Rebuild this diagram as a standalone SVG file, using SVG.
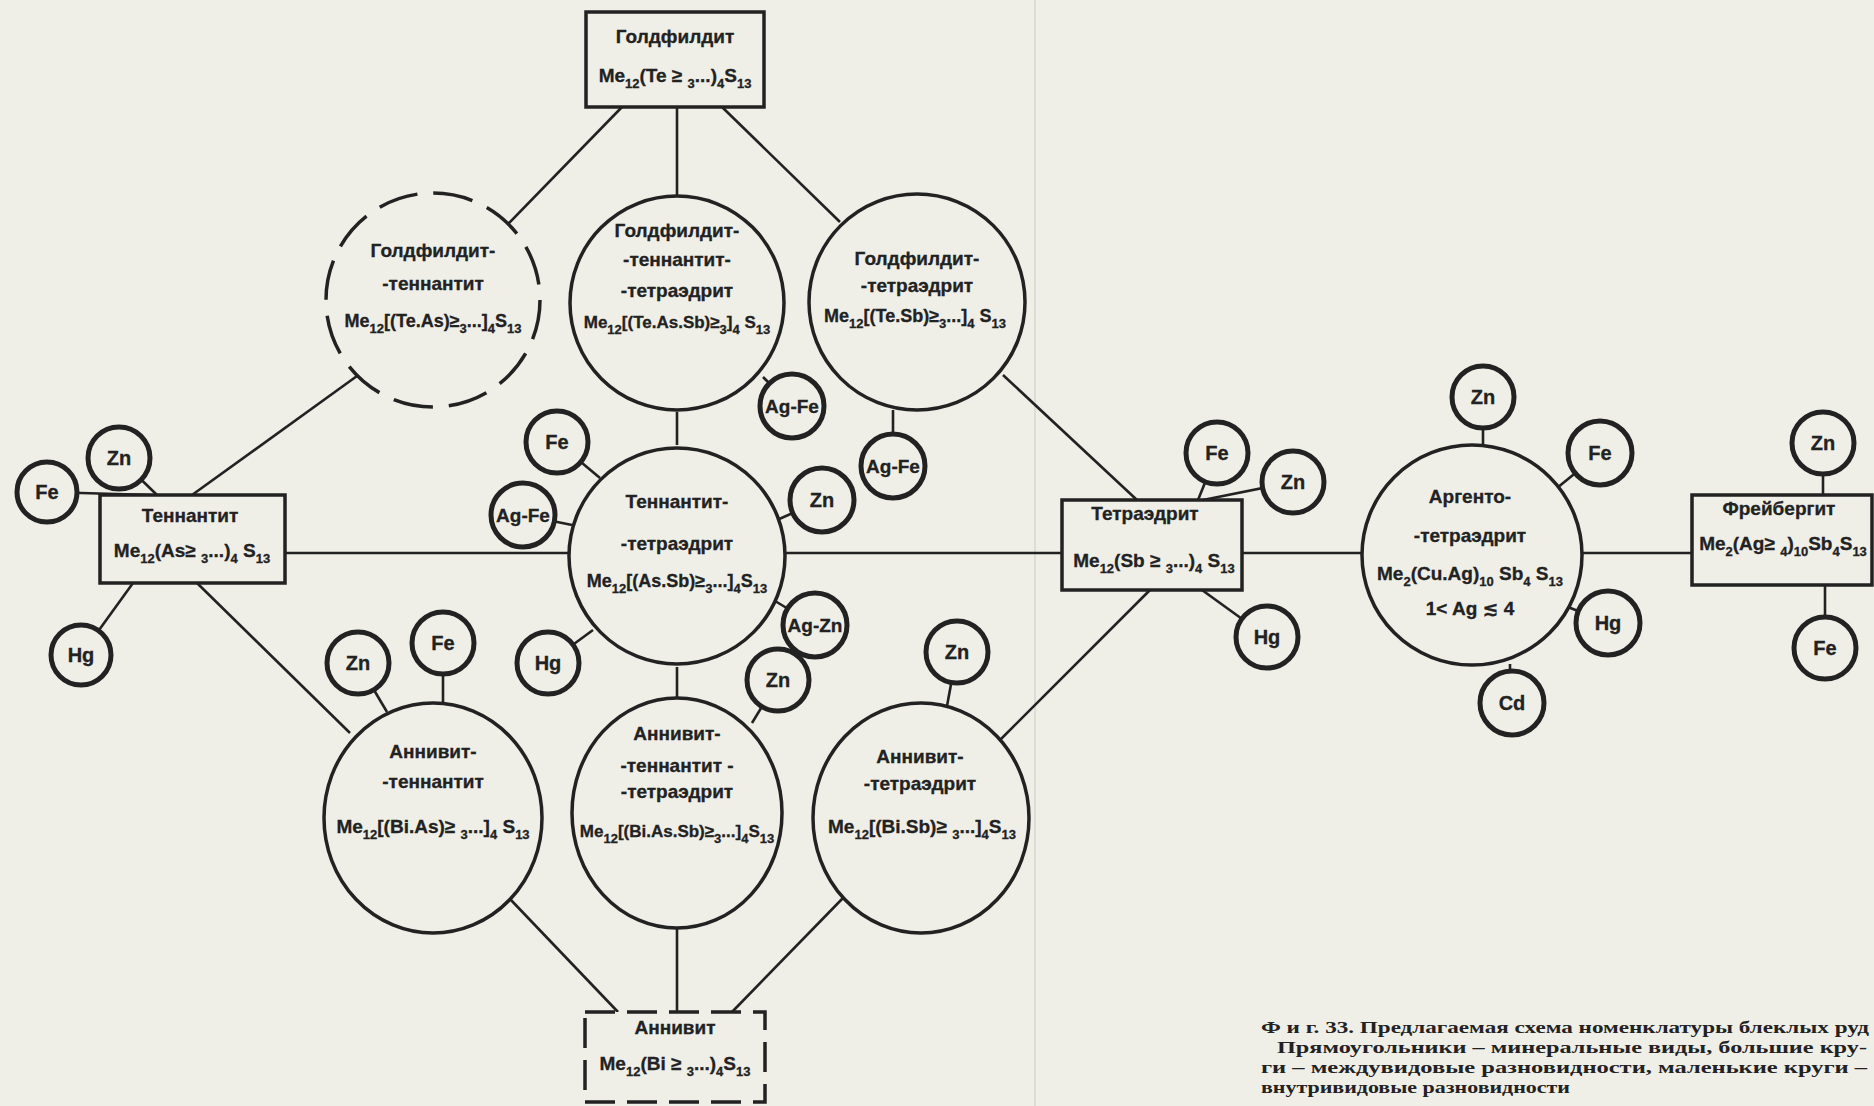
<svg xmlns="http://www.w3.org/2000/svg" width="1874" height="1106" viewBox="0 0 1874 1106">
<style>
.bg{fill:#efefe8}
.big{fill:#efefe8;stroke:#222;stroke-width:3.5}
.sm{fill:#efefe8;stroke:#222;stroke-width:5}
.box{fill:#efefe8;stroke:#222;stroke-width:3.5}
.dc{stroke-dasharray:40 16}
.db{stroke-dasharray:30 12}
#connectors line{stroke:#222;stroke-width:2.6}
.t{font-family:"Liberation Sans","DejaVu Sans",sans-serif;font-weight:bold;font-size:19px;fill:#222;stroke:#222;stroke-width:0.3;text-anchor:middle}
.f18{font-size:18px}
.f17{font-size:17px}
.s{font-size:13px}
.e{font-size:20px}
.cap{font-family:"Liberation Serif","DejaVu Serif",serif;font-weight:bold;font-size:17px;fill:#222}
</style>
<rect class="bg" x="0" y="0" width="1874" height="1106"/>
<line x1="1035" y1="0" x2="1035" y2="1106" stroke="#d0d0c8" stroke-width="1.2"/>

<g id="connectors">
<line x1="677" y1="107" x2="677" y2="195"/>
<line x1="622" y1="107" x2="508" y2="224"/>
<line x1="722" y1="107" x2="840" y2="222"/>
<line x1="192" y1="495" x2="357" y2="376"/>
<line x1="197" y1="583" x2="350" y2="733"/>
<line x1="285" y1="553" x2="570" y2="553"/>
<line x1="783" y1="553" x2="1062" y2="553"/>
<line x1="1242" y1="553" x2="1363" y2="553"/>
<line x1="1582" y1="553" x2="1692" y2="553"/>
<line x1="677" y1="412" x2="677" y2="445"/>
<line x1="677" y1="667" x2="677" y2="700"/>
<line x1="677" y1="926" x2="677" y2="1012"/>
<line x1="510" y1="899" x2="618" y2="1012"/>
<line x1="843" y1="898" x2="732" y2="1012"/>
<line x1="1003" y1="375" x2="1137" y2="500"/>
<line x1="1000" y1="740" x2="1150" y2="590"/>
<line x1="119" y1="458" x2="157" y2="495"/>
<line x1="47" y1="492" x2="150" y2="495"/>
<line x1="81" y1="655" x2="133" y2="583"/>
<line x1="557" y1="442" x2="600" y2="478"/>
<line x1="523" y1="515" x2="572" y2="525"/>
<line x1="822" y1="500" x2="777" y2="520"/>
<line x1="815" y1="625" x2="775" y2="601"/>
<line x1="548" y1="663" x2="593" y2="630"/>
<line x1="792" y1="406" x2="763" y2="377"/>
<line x1="893" y1="466" x2="893" y2="410"/>
<line x1="778" y1="680" x2="752" y2="723"/>
<line x1="358" y1="663" x2="387" y2="712"/>
<line x1="443" y1="643" x2="443" y2="706"/>
<line x1="957" y1="652" x2="947" y2="706"/>
<line x1="1217" y1="453" x2="1198" y2="500"/>
<line x1="1293" y1="482" x2="1203" y2="500"/>
<line x1="1267" y1="637" x2="1202" y2="590"/>
<line x1="1483" y1="397" x2="1483" y2="446"/>
<line x1="1600" y1="453" x2="1557" y2="488"/>
<line x1="1608" y1="623" x2="1568" y2="607"/>
<line x1="1510" y1="703" x2="1510" y2="664"/>
<line x1="1823" y1="443" x2="1823" y2="495"/>
<line x1="1825" y1="648" x2="1825" y2="585"/>
</g>

<g id="goldfieldite">
<rect class="box" x="586" y="12" width="178" height="95"/>
<text class="t" x="675" y="43">Голдфилдит</text>
<text class="t" x="675" y="82">Me<tspan class="s" dy="6">12</tspan><tspan dy="-6">(Te ≥ </tspan><tspan class="s" dy="6">3</tspan><tspan dy="-6">...)</tspan><tspan class="s" dy="6">4</tspan><tspan dy="-6">S</tspan><tspan class="s" dy="6">13</tspan></text>
</g>

<g id="goldfieldite-tennantite">
<circle class="big dc" cx="433" cy="300" r="107"/>
<text class="t" x="433" y="257">Голдфилдит-</text>
<text class="t" x="433" y="290">-теннантит</text>
<text class="t f18" x="433" y="327">Me<tspan class="s" dy="6">12</tspan><tspan dy="-6">[(Te.As)≥</tspan><tspan class="s" dy="6">3</tspan><tspan dy="-6">...]</tspan><tspan class="s" dy="6">4</tspan><tspan dy="-6">S</tspan><tspan class="s" dy="6">13</tspan></text>
</g>

<g id="goldfieldite-tennantite-tetrahedrite">
<circle class="big" cx="677" cy="303" r="107"/>
<text class="t" x="677" y="237">Голдфилдит-</text>
<text class="t" x="677" y="266">-теннантит-</text>
<text class="t" x="677" y="297">-тетраэдрит</text>
<text class="t f17" x="677" y="328">Me<tspan class="s" dy="6">12</tspan><tspan dy="-6">[(Te.As.Sb)≥</tspan><tspan class="s" dy="6">3</tspan><tspan dy="-6">]</tspan><tspan class="s" dy="6">4</tspan><tspan dy="-6"> S</tspan><tspan class="s" dy="6">13</tspan></text>
</g>

<g id="goldfieldite-tetrahedrite">
<circle class="big" cx="917" cy="302" r="108"/>
<text class="t" x="917" y="265">Голдфилдит-</text>
<text class="t" x="917" y="292">-тетраэдрит</text>
<text class="t f18" x="915" y="322">Me<tspan class="s" dy="6">12</tspan><tspan dy="-6">[(Te.Sb)≥</tspan><tspan class="s" dy="6">3</tspan><tspan dy="-6">...]</tspan><tspan class="s" dy="6">4</tspan><tspan dy="-6"> S</tspan><tspan class="s" dy="6">13</tspan></text>
</g>

<g id="tennantite">
<rect class="box" x="100" y="495" width="185" height="88"/>
<text class="t" x="190" y="522">Теннантит</text>
<text class="t" x="192" y="557">Me<tspan class="s" dy="6">12</tspan><tspan dy="-6">(As≥ </tspan><tspan class="s" dy="6">3</tspan><tspan dy="-6">...)</tspan><tspan class="s" dy="6">4</tspan><tspan dy="-6"> S</tspan><tspan class="s" dy="6">13</tspan></text>
</g>

<g id="tennantite-tetrahedrite">
<circle class="big" cx="677" cy="556" r="108"/>
<text class="t" x="677" y="508">Теннантит-</text>
<text class="t" x="677" y="550">-тетраэдрит</text>
<text class="t f18" x="677" y="587">Me<tspan class="s" dy="6">12</tspan><tspan dy="-6">[(As.Sb)≥</tspan><tspan class="s" dy="6">3</tspan><tspan dy="-6">...]</tspan><tspan class="s" dy="6">4</tspan><tspan dy="-6">S</tspan><tspan class="s" dy="6">13</tspan></text>
</g>

<g id="tetrahedrite">
<rect class="box" x="1062" y="500" width="180" height="90"/>
<text class="t" x="1145" y="520">Тетраэдрит</text>
<text class="t" x="1154" y="567">Me<tspan class="s" dy="6">12</tspan><tspan dy="-6">(Sb ≥ </tspan><tspan class="s" dy="6">3</tspan><tspan dy="-6">...)</tspan><tspan class="s" dy="6">4</tspan><tspan dy="-6"> S</tspan><tspan class="s" dy="6">13</tspan></text>
</g>

<g id="argentotetrahedrite">
<circle class="big" cx="1472" cy="555" r="110"/>
<text class="t" x="1470" y="503">Аргенто-</text>
<text class="t" x="1470" y="542">-тетраэдрит</text>
<text class="t" x="1470" y="580">Me<tspan class="s" dy="6">2</tspan><tspan dy="-6">(Cu.Ag)</tspan><tspan class="s" dy="6">10</tspan><tspan dy="-6"> Sb</tspan><tspan class="s" dy="6">4</tspan><tspan dy="-6"> S</tspan><tspan class="s" dy="6">13</tspan></text>
<text class="t" x="1470" y="615">1&lt; Ag ≲ 4</text>
</g>

<g id="freibergite">
<rect class="box" x="1692" y="495" width="180" height="90"/>
<text class="t" x="1779" y="515">Фрейбергит</text>
<text class="t" x="1783" y="550">Me<tspan class="s" dy="6">2</tspan><tspan dy="-6">(Ag≥ </tspan><tspan class="s" dy="6">4</tspan><tspan dy="-6">)</tspan><tspan class="s" dy="6">10</tspan><tspan dy="-6">Sb</tspan><tspan class="s" dy="6">4</tspan><tspan dy="-6">S</tspan><tspan class="s" dy="6">13</tspan></text>
</g>

<g id="annivite-tennantite">
<ellipse class="big" cx="433" cy="818" rx="109" ry="115"/>
<text class="t" x="433" y="758">Аннивит-</text>
<text class="t" x="433" y="788">-теннантит</text>
<text class="t" x="433" y="833">Me<tspan class="s" dy="6">12</tspan><tspan dy="-6">[(Bi.As)≥ </tspan><tspan class="s" dy="6">3</tspan><tspan dy="-6">...]</tspan><tspan class="s" dy="6">4</tspan><tspan dy="-6"> S</tspan><tspan class="s" dy="6">13</tspan></text>
</g>

<g id="annivite-tennantite-tetrahedrite">
<ellipse class="big" cx="677" cy="813" rx="105" ry="115"/>
<text class="t" x="677" y="740">Аннивит-</text>
<text class="t" x="677" y="772">-теннантит -</text>
<text class="t" x="677" y="798">-тетраэдрит</text>
<text class="t f17" x="677" y="837">Me<tspan class="s" dy="6">12</tspan><tspan dy="-6">[(Bi.As.Sb)≥</tspan><tspan class="s" dy="6">3</tspan><tspan dy="-6">...]</tspan><tspan class="s" dy="6">4</tspan><tspan dy="-6">S</tspan><tspan class="s" dy="6">13</tspan></text>
</g>

<g id="annivite-tetrahedrite">
<ellipse class="big" cx="921" cy="818" rx="108" ry="115"/>
<text class="t" x="920" y="763">Аннивит-</text>
<text class="t" x="920" y="790">-тетраэдрит</text>
<text class="t" x="922" y="833">Me<tspan class="s" dy="6">12</tspan><tspan dy="-6">[(Bi.Sb)≥ </tspan><tspan class="s" dy="6">3</tspan><tspan dy="-6">...]</tspan><tspan class="s" dy="6">4</tspan><tspan dy="-6">S</tspan><tspan class="s" dy="6">13</tspan></text>
</g>

<g id="annivite">
<rect class="box db" x="585" y="1012" width="180" height="90"/>
<text class="t" x="675" y="1034">Аннивит</text>
<text class="t" x="675" y="1070">Me<tspan class="s" dy="6">12</tspan><tspan dy="-6">(Bi ≥ </tspan><tspan class="s" dy="6">3</tspan><tspan dy="-6">...)</tspan><tspan class="s" dy="6">4</tspan><tspan dy="-6">S</tspan><tspan class="s" dy="6">13</tspan></text>
</g>

<g id="t-zn"><circle class="sm" cx="119" cy="458" r="31"/><text class="t e" x="119" y="465">Zn</text></g>
<g id="t-fe"><circle class="sm" cx="47" cy="492" r="30"/><text class="t e" x="47" y="499">Fe</text></g>
<g id="t-hg"><circle class="sm" cx="81" cy="655" r="30"/><text class="t e" x="81" y="662">Hg</text></g>

<g id="gtt-agfe"><circle class="sm" cx="792" cy="406" r="32"/><text class="t" x="792" y="413">Ag-Fe</text></g>
<g id="gt-agfe"><circle class="sm" cx="893" cy="466" r="32"/><text class="t" x="893" y="473">Ag-Fe</text></g>

<g id="tt-fe"><circle class="sm" cx="557" cy="442" r="31"/><text class="t e" x="557" y="449">Fe</text></g>
<g id="tt-agfe"><circle class="sm" cx="523" cy="515" r="32"/><text class="t" x="523" y="522">Ag-Fe</text></g>
<g id="tt-zn"><circle class="sm" cx="822" cy="500" r="32"/><text class="t e" x="822" y="507">Zn</text></g>
<g id="tt-agzn"><circle class="sm" cx="815" cy="625" r="32"/><text class="t" x="815" y="632">Ag-Zn</text></g>
<g id="tt-hg"><circle class="sm" cx="548" cy="663" r="31"/><text class="t e" x="548" y="670">Hg</text></g>

<g id="att-zn"><circle class="sm" cx="778" cy="680" r="31"/><text class="t e" x="778" y="687">Zn</text></g>
<g id="at-zn1"><circle class="sm" cx="358" cy="663" r="31"/><text class="t e" x="358" y="670">Zn</text></g>
<g id="at-fe"><circle class="sm" cx="443" cy="643" r="31"/><text class="t e" x="443" y="650">Fe</text></g>
<g id="ate-zn"><circle class="sm" cx="957" cy="652" r="31"/><text class="t e" x="957" y="659">Zn</text></g>

<g id="te-fe"><circle class="sm" cx="1217" cy="453" r="31"/><text class="t e" x="1217" y="460">Fe</text></g>
<g id="te-zn"><circle class="sm" cx="1293" cy="482" r="31"/><text class="t e" x="1293" y="489">Zn</text></g>
<g id="te-hg"><circle class="sm" cx="1267" cy="637" r="31"/><text class="t e" x="1267" y="644">Hg</text></g>

<g id="ar-zn"><circle class="sm" cx="1483" cy="397" r="31"/><text class="t e" x="1483" y="404">Zn</text></g>
<g id="ar-fe"><circle class="sm" cx="1600" cy="453" r="32"/><text class="t e" x="1600" y="460">Fe</text></g>
<g id="ar-hg"><circle class="sm" cx="1608" cy="623" r="32"/><text class="t e" x="1608" y="630">Hg</text></g>
<g id="ar-cd"><circle class="sm" cx="1512" cy="703" r="32"/><text class="t e" x="1512" y="710">Cd</text></g>

<g id="fr-zn"><circle class="sm" cx="1823" cy="443" r="31"/><text class="t e" x="1823" y="450">Zn</text></g>
<g id="fr-fe"><circle class="sm" cx="1825" cy="648" r="31"/><text class="t e" x="1825" y="655">Fe</text></g>

<g id="caption">
<text class="cap" x="1261" y="1033" textLength="608" lengthAdjust="spacingAndGlyphs">Ф и г. 33. Предлагаемая схема номенклатуры блеклых руд</text>
<text class="cap" x="1277" y="1053" textLength="590" lengthAdjust="spacingAndGlyphs">Прямоугольники – минеральные виды, большие кру-</text>
<text class="cap" x="1261" y="1073" textLength="606" lengthAdjust="spacingAndGlyphs">ги – междувидовые разновидности, маленькие круги –</text>
<text class="cap" x="1261" y="1093" textLength="309" lengthAdjust="spacingAndGlyphs">внутривидовые разновидности</text>
</g>
</svg>
